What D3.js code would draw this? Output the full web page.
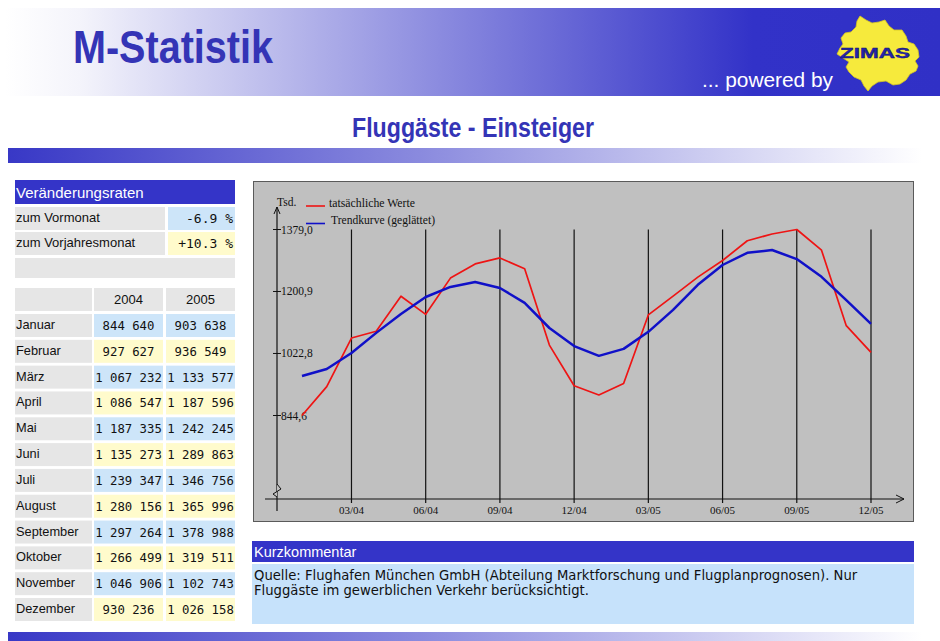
<!DOCTYPE html>
<html><head><meta charset="utf-8">
<script src="https://cdn.jsdelivr.net/npm/d3@7"></script>
<style>html,body{margin:0;padding:0;background:#fff;}svg{display:block;}</style>
</head><body>
<svg id="c" width="940" height="641"></svg>
<script>
// ---------- data ----------
const months = ["Januar","Februar","März","April","Mai","Juni","Juli","August","September","Oktober","November","Dezember"];
const years = ["2004","2005"];
const values2004 = [844640, 927627, 1067232, 1086547, 1187335, 1135273, 1239347, 1280156, 1297264, 1266499, 1046906, 930236];
const values2005 = [903638, 936549, 1133577, 1187596, 1242245, 1289863, 1346756, 1365996, 1378988, 1319511, 1102743, 1026158];
// smoothed trend curve (Tsd.), Jan 04 .. Dez 05
const trend = [958, 978, 1024, 1082, 1136, 1185, 1214, 1228, 1211, 1168, 1096, 1044,
               1016, 1036, 1085, 1148, 1220, 1277, 1312, 1320, 1294, 1243, 1176, 1108];
const rateLabels = ["zum Vormonat", "zum Vorjahresmonat"];
const rateValues = ["-6.9 %", "+10.3 %"];
const yTicks = [844.6, 1022.8, 1200.9, 1379.0];
const xTickLabels = ["03/04","06/04","09/04","12/04","03/05","06/05","09/05","12/05"];
const legendLabels = ["tatsächliche Werte", "Trendkurve (geglättet)"];
const commentText = ["Quelle: Flughafen München GmbH (Abteilung Marktforschung und Flugplanprognosen). Nur",
                     "Fluggäste im gewerblichen Verkehr berücksichtigt."];

const actual = values2004.concat(values2005).map(v => v / 1000);

// ---------- page ----------
const svg = d3.select("#c");
const defs = svg.append("defs");
const g1 = defs.append("linearGradient").attr("id","banner").attr("x1","0").attr("x2","1").attr("y1","0").attr("y2","0");
g1.append("stop").attr("offset","0").attr("stop-color","#ffffff");
g1.append("stop").attr("offset","0.08").attr("stop-color","#f4f4fb");
g1.append("stop").attr("offset","0.45").attr("stop-color","#8f8fe0");
g1.append("stop").attr("offset","0.80").attr("stop-color","#3232c8");
g1.append("stop").attr("offset","1").attr("stop-color","#3030c6");
const g2 = defs.append("linearGradient").attr("id","bar").attr("x1","0").attr("x2","1").attr("y1","0").attr("y2","0");
g2.append("stop").attr("offset","0").attr("stop-color","#3838c6");
g2.append("stop").attr("offset","0.45").attr("stop-color","#8a8ade");
g2.append("stop").attr("offset","1").attr("stop-color","#ffffff");

// banner
svg.append("rect").attr("x",5).attr("y",8).attr("width",935).attr("height",88).attr("fill","url(#banner)");
svg.append("text").attr("x",73).attr("y",63).attr("font-family","Liberation Sans, Arial, sans-serif")
  .attr("font-weight","bold").attr("font-size",46).attr("fill","#3434b6")
  .attr("textLength",200).attr("lengthAdjust","spacingAndGlyphs").text("M-Statistik");
svg.append("text").attr("x",702).attr("y",87).attr("font-family","Liberation Sans, Arial, sans-serif")
  .attr("font-size",20).attr("fill","#ffffff")
  .attr("textLength",131).attr("lengthAdjust","spacingAndGlyphs").text("... powered by");
// logo (map outline)
const logoPts = [[860,16],[866,20],[872,23],[879,22],[885,20],[889,26],[894,30],[902,30],[906,36],[908,42],[914,44],[918,50],[919,57],[915,61],[918,66],[916,71],[910,74],[906,80],[900,84],[893,85],[886,81],[878,82],[872,86],[868,91],[864,86],[861,80],[854,77],[849,72],[846,67],[849,62],[843,58],[837,54],[840,48],[843,44],[841,38],[845,33],[851,32],[856,27],[857,21]];
svg.append("path").attr("d", d3.line().curve(d3.curveLinearClosed)(logoPts)).attr("fill","#f6ea3c").attr("stroke","#d8c820").attr("stroke-width",0.8);
svg.append("text").attr("x",840).attr("y",58).attr("font-family","Liberation Sans, Arial, sans-serif")
  .attr("font-weight","bold").attr("font-size",14).attr("fill","#2424b0").attr("stroke","#101060").attr("stroke-width",0.4)
  .attr("textLength",70).attr("lengthAdjust","spacingAndGlyphs").text("ZIMAS");

// title
svg.append("text").attr("x",473).attr("y",137).attr("text-anchor","middle").attr("font-family","Liberation Sans, Arial, sans-serif")
  .attr("font-weight","bold").attr("font-size",27).attr("fill","#3434b6")
  .attr("textLength",242).attr("lengthAdjust","spacingAndGlyphs").text("Fluggäste - Einsteiger");

// gradient bars
svg.append("rect").attr("x",8).attr("y",148).attr("width",914).attr("height",15).attr("fill","url(#bar)");
svg.append("rect").attr("x",8).attr("y",632).attr("width",914).attr("height",9).attr("fill","url(#bar)");

// ---------- left table ----------
const tf = "Liberation Sans, Arial, sans-serif";
const mono = "DejaVu Sans Mono, monospace";
svg.append("rect").attr("x",15).attr("y",180).attr("width",220).attr("height",24).attr("fill","#3434c8");
svg.append("text").attr("x",16).attr("y",198).attr("font-family",tf).attr("font-size",15).attr("fill","#fff").text("Veränderungsraten");

rateLabels.forEach((lab, i) => {
  const top = 207 + i * 25;
  svg.append("rect").attr("x",15).attr("y",top).attr("width",150).attr("height",23).attr("fill","#e6e6e6");
  svg.append("rect").attr("x",168).attr("y",top).attr("width",67).attr("height",23).attr("fill", i === 0 ? "#cde5f9" : "#fffbcc");
  svg.append("text").attr("x",16).attr("y",top + 15).attr("font-family",tf).attr("font-size",13).attr("fill","#111").text(lab);
  svg.append("text").attr("x",233).attr("y",top + 16).attr("text-anchor","end").attr("font-family",mono).attr("font-size",13).attr("fill","#111").text(rateValues[i]);
});
svg.append("rect").attr("x",15).attr("y",258).attr("width",220).attr("height",20).attr("fill","#e6e6e6");

// year header
svg.append("rect").attr("x",15).attr("y",288).attr("width",77).attr("height",23).attr("fill","#e6e6e6");
const colX = [94, 166], colW = [69, 69];
years.forEach((yr, j) => {
  svg.append("rect").attr("x",colX[j]).attr("y",288).attr("width",colW[j]).attr("height",23).attr("fill","#e6e6e6");
  svg.append("text").attr("x",colX[j] + colW[j] / 2).attr("y",304).attr("text-anchor","middle").attr("font-family",tf).attr("font-size",13).attr("fill","#111").text(yr);
});
const fmt = v => d3.format(",")(v).replace(/,/g, " ");
const rowY = d3.scaleLinear().domain([0, 11]).range([314, 598]);
months.forEach((m, i) => {
  const top = rowY(i);
  const col = i % 2 === 0 ? "#cde5f9" : "#fffbcc";
  svg.append("rect").attr("x",15).attr("y",top).attr("width",77).attr("height",23).attr("fill","#e6e6e6");
  svg.append("text").attr("x",16).attr("y",top + 15).attr("font-family",tf).attr("font-size",12.8).attr("fill","#111").text(m);
  [values2004[i], values2005[i]].forEach((v, j) => {
    svg.append("rect").attr("x",colX[j]).attr("y",top).attr("width",colW[j]).attr("height",23).attr("fill",col);
    svg.append("text").attr("x",colX[j] + colW[j] / 2).attr("y",top + 16).attr("text-anchor","middle")
      .attr("font-family",mono).attr("font-size",12.3).attr("fill","#111").text(fmt(v));
  });
});

// ---------- chart ----------
svg.append("rect").attr("x",253.5).attr("y",181.5).attr("width",660).attr("height",340).attr("fill","#c0c0c0").attr("stroke","#5a5a5a").attr("stroke-width",1);

const x = d3.scaleLinear().domain([0, 23]).range([302, 871]);
const y = d3.scaleLinear().domain([844.6, 1379.0]).range([415.5, 229.5]);
const sf = "Liberation Serif, Times New Roman, serif";
const axisX = 277, axisY = 499;
const tickIdx = xTickLabels.map(l => { const [mm, yy] = l.split("/").map(Number); return (yy - 4) * 12 + mm - 1; });

// vertical grid lines + x labels
const cg = svg.append("g");
cg.selectAll("line.grid").data(tickIdx).join("line").attr("class","grid")
  .attr("x1", d => x(d)).attr("x2", d => x(d)).attr("y1", y(1379.0)).attr("y2", axisY + 4)
  .attr("stroke","#111").attr("stroke-width",1.2);
cg.selectAll("text.xl").data(xTickLabels).join("text").attr("class","xl")
  .attr("x", (d, i) => x(tickIdx[i])).attr("y", 514).attr("text-anchor","middle")
  .attr("font-family",sf).attr("font-size",11).attr("fill","#111").text(d => d);

// x axis
cg.append("line").attr("x1",265).attr("x2",904).attr("y1",axisY).attr("y2",axisY).attr("stroke","#111").attr("stroke-width",1);
cg.append("path").attr("d",`M896,${axisY-4} L904,${axisY} L896,${axisY+4}`).attr("fill","none").attr("stroke","#111").attr("stroke-width",1);
// y axis
cg.append("line").attr("x1",axisX).attr("x2",axisX).attr("y1",207).attr("y2",511).attr("stroke","#111").attr("stroke-width",1.2);
cg.append("path").attr("d",`M${axisX-3},${214} L${axisX},${207} L${axisX+3},${214}`).attr("fill","none").attr("stroke","#111").attr("stroke-width",1);
cg.append("path").attr("d",`M${axisX},484 L${axisX+4},489 L${axisX-4},494 L${axisX},497`).attr("fill","#c0c0c0").attr("stroke","#111").attr("stroke-width",1);
// y ticks
cg.selectAll("line.yt").data(yTicks).join("line").attr("class","yt")
  .attr("x1", axisX - 4).attr("x2", axisX + 4).attr("y1", d => y(d)).attr("y2", d => y(d)).attr("stroke","#111");
cg.selectAll("text.yl").data(yTicks).join("text").attr("class","yl")
  .attr("x", axisX + 4).attr("y", d => y(d) + 4).attr("font-family",sf).attr("font-size",11.5).attr("fill","#111")
  .text(d => d3.format(".1f")(d).replace(".", ","));

// series
const line = d3.line().x((d, i) => x(i)).y(d => y(d));
svg.append("path").datum(actual).attr("d", line).attr("fill","none").attr("stroke","#ee1414").attr("stroke-width",1.7).attr("stroke-linejoin","round");
svg.append("path").datum(trend).attr("d", line).attr("fill","none").attr("stroke","#1010c8").attr("stroke-width",2.5).attr("stroke-linejoin","round");

// legend
svg.append("text").attr("x",277).attr("y",206).attr("font-family",sf).attr("font-size",11.5).attr("fill","#111").text("Tsd.");
const legColors = ["#ee1414", "#1010c8"];
const legW = [86, 104];
legendLabels.forEach((lab, i) => {
  const ly = 206 + i * 17.5;
  svg.append("line").attr("x1",306).attr("x2",325).attr("y1",ly).attr("y2",ly).attr("stroke",legColors[i]).attr("stroke-width",1.6);
  svg.append("text").attr("x",329 + i * 2).attr("y",ly + 0.5).attr("font-family",sf).attr("font-size",11.5).attr("fill","#111")
    .attr("textLength",legW[i]).attr("lengthAdjust","spacingAndGlyphs").text(lab);
});

// ---------- comment box ----------
svg.append("rect").attr("x",252).attr("y",541).attr("width",662).attr("height",21).attr("fill","#3434c8");
svg.append("text").attr("x",254).attr("y",557).attr("font-family",tf).attr("font-size",14.5).attr("fill","#fff").text("Kurzkommentar");
svg.append("rect").attr("x",252).attr("y",564).attr("width",662).attr("height",60).attr("fill","#c6e2fb");
commentText.forEach((t, i) => {
  svg.append("text").attr("x",254).attr("y",580 + i * 15).attr("font-family","DejaVu Sans, Verdana, sans-serif").attr("font-size",13.2).attr("fill","#111").text(t);
});
</script>
</body></html>
